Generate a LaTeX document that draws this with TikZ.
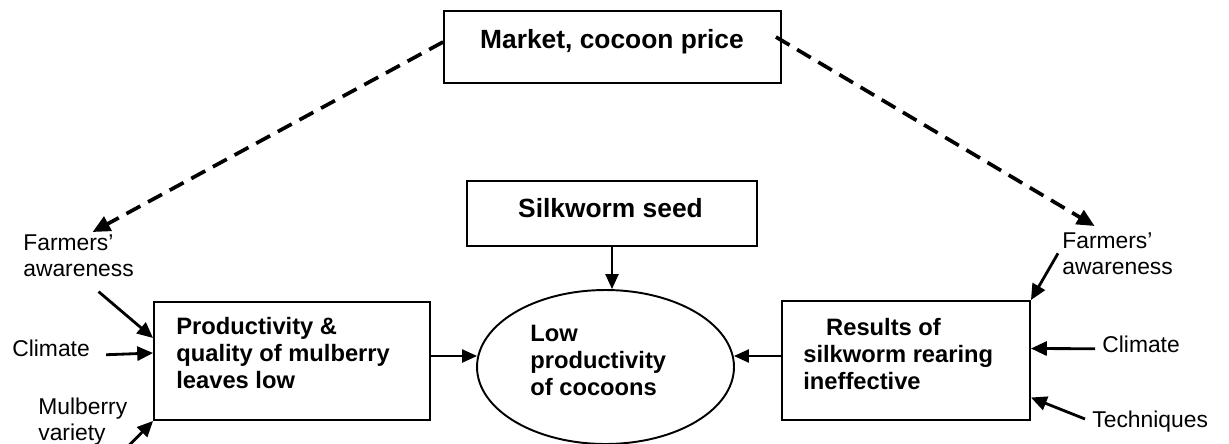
\documentclass[tikz,border=0pt]{standalone}
\usepackage{fontspec}
\setmainfont{Liberation Sans}
\usetikzlibrary{calc}
\usetikzlibrary{arrows.meta}
\usetikzlibrary{shapes.geometric}
\tikzstyle{box}=[draw, line width=1.1pt, inner sep=0pt]
\tikzstyle{title}=[font=\fontsize{15}{18}\selectfont\bfseries, anchor=base, inner sep=0pt]
\tikzstyle{boxtext}=[font=\fontsize{13.5}{15.4}\selectfont\bfseries, align=left, anchor=north west, inner sep=0pt]
\tikzstyle{factor}=[font=\fontsize{13}{14.8}\selectfont, align=left, anchor=north west, inner sep=0pt]
\tikzstyle{cause}=[-{Triangle[length=9pt, width=8pt]}, line width=1.6pt]
\tikzstyle{link}=[-{Triangle[length=8.5pt, width=7.5pt]}, line width=0.9pt]
\tikzstyle{influence}=[-{Triangle[length=10pt, width=9pt]}, line width=2.1pt, dash pattern=on 9pt off 5pt]

\begin{document}
\begin{tikzpicture}[x=0.02cm, y=-0.02cm]
    \useasboundingbox (0, 0) rectangle (1229, 443);

    \node [box, minimum width=6.74cm, minimum height=1.44cm] (market) at (612.5, 47) {};
    \node [title] (markettext) at (612, 48) {Market, cocoon price};

    \node [box, minimum width=5.8cm, minimum height=1.3cm] (seed) at (612, 213.5) {};
    \node [title] (seedtext) at (610.5, 217) {Silkworm seed};

    \node [box, ellipse, minimum width=5.14cm, minimum height=3.08cm] (crop) at (605.5, 367) {};
    \node [boxtext] (croptext) at (530, 325) {Low\\productivity\\of cocoons};

    \node [box, minimum width=5.52cm, minimum height=2.36cm] (leaf) at (292, 361) {};
    \node [boxtext] (leaftext) at (176, 317) {Productivity \&\\quality of mulberry\\leaves low};

    \node [box, minimum width=4.96cm, minimum height=2.38cm] (rear) at (906, 360.5) {};
    \node [boxtext] (reartext) at (803, 318) {\hspace{13pt}Results of\\silkworm rearing\\ineffective};

    \node [factor] (farmL) at (23, 234) {Farmers’\\awareness};
    \node [factor] (climL) at (12, 340) {Climate};
    \node [factor] (mulbL) at (38, 398) {Mulberry\\variety};
    \node [factor] (farmR) at (1062, 232) {Farmers’\\awareness};
    \node [factor] (climR) at (1102, 336) {Climate};
    \node [factor] (techR) at (1092, 411) {Techniques};

    \draw [influence] ($(market.west)+(0, -5)$) -- ($(farmL.north)+(14, -2)$);
    \draw [influence] ($(market.east)+(-6, -10)$) -- ($(farmR.north)+(-23, -6)$);

    \draw [link] (seed.south) -- (seed.south |- crop.north);
    \draw [link] ($(leaf.east)+(0, -5)$) -- ($(crop.west)+(1, -11)$);
    \draw [link] ($(rear.west)+(0, -4.5)$) -- ($(crop.east)+(-1, -11)$);

    \draw [cause] ($(farmL.south)+(20, 15)$) -- ($(leaf.west)+(0, -23)$);
    \draw [cause] ($(climL.east)+(16, 6)$) -- ($(leaf.west)+(0, -8)$);
    \draw [cause] ($(mulbL.south east)+(-2, 3)$) -- (leaf.south west);

    \draw [cause] ($(farmR.west)+(-4, 0)$) -- (rear.north east);
    \draw [cause] ($(climR.west)+(-7, 4)$) -- ($(rear.east)+(0, -12)$);
    \draw [cause] ($(techR.west)+(-7, -3)$) -- ($(rear.east)+(0, 37)$);
\end{tikzpicture}
\end{document}
